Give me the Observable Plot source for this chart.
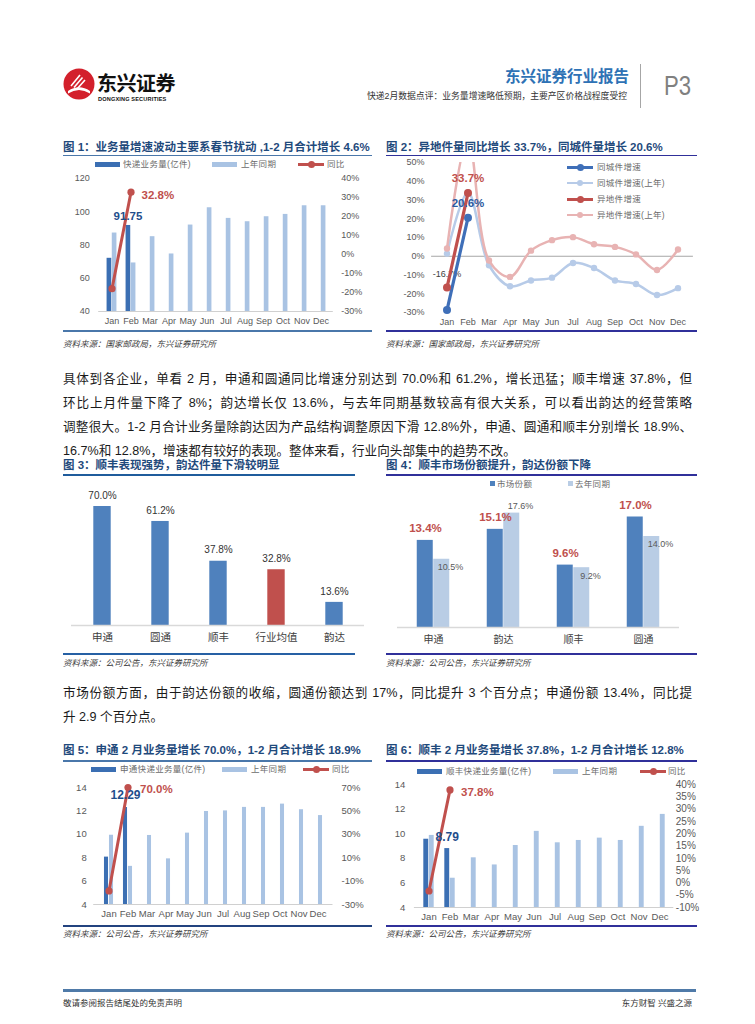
<!DOCTYPE html>
<html lang="zh-CN">
<head>
<meta charset="utf-8">
<script src="https://cdn.jsdelivr.net/npm/d3@7"></script>
<script src="https://cdn.jsdelivr.net/npm/@observablehq/plot@0.6"></script>
<style>
html,body{margin:0;padding:0;background:#fff;}
#page{position:relative;width:755px;height:1024px;overflow:hidden;background:#fff;font-family:"Liberation Sans","Noto Sans CJK SC",sans-serif;color:#222;}
.a{position:absolute;white-space:nowrap;}
.ttl{font-size:11.5px;font-weight:bold;color:#1f4a7c;line-height:14px;}
.src{font-size:8.5px;font-style:italic;color:#404040;line-height:10px;}
.ln{position:absolute;left:63px;width:629px;font-size:12.6px;line-height:20px;color:#1a1a1a;text-align:justify;text-align-last:justify;}
.lg{font-size:8.5px;color:#6b6b6b;line-height:10px;letter-spacing:0.3px;}
</style>
</head>
<body>
<div id="page"></div>
<script>
// ---------------- DATA ----------------
const months = ["Jan","Feb","Mar","Apr","May","Jun","Jul","Aug","Sep","Oct","Nov","Dec"];

// Chart 1: industry volume (亿件)
const c1Volume = [72.0, 91.75];
const c1PrevYear = [87.2, 69.2, 85.0, 74.6, 92.0, 102.4, 96.0, 94.0, 97.0, 98.4, 103.6, 103.6];
const c1Yoy = [-18.0, 32.8];
const c1LeftTicks = [40, 60, 80, 100, 120];
const c1RightTicks = [-30, -20, -10, 0, 10, 20, 30, 40];

// Chart 2: growth of same-city / other-city volume (%)
const c2Series = ["同城件增速", "同城件增速(上年)", "异地件增速", "异地件增速(上年)"];
const c2SameCity = [-28.7, 20.6];
const c2SameCityPrev = [1.4, 34.0, -4.8, -16.0, -12.9, -11.4, -3.6, -6.3, -12.9, -14.8, -20.7, -17.0];
const c2OtherCity = [-16.7, 33.7];
const c2OtherCityPrev = [4.1, 63.0, -2.3, -11.0, 3.0, 8.6, 10.2, 6.4, 5.0, 1.0, -7.3, 3.6];
const c2Ticks = [-30, -20, -10, 0, 10, 20, 30, 40, 50];

// Chart 3: Feb growth by company (%)
const c3Companies = ["申通", "圆通", "顺丰", "行业均值", "韵达"];
const c3Growth = [70.0, 61.2, 37.8, 32.8, 13.6];

// Chart 4: market share (%)
const c4Companies = ["申通", "韵达", "顺丰", "圆通"];
const c4Share = [13.4, 15.1, 9.6, 17.0];
const c4SharePrev = [10.5, 17.6, 9.2, 14.0];
const c4Legend = ["市场份额", "去年同期"];

// Chart 5: STO volume (亿件)
const c5Volume = [8.05, 12.29];
const c5PrevYear = [9.92, 7.26, 9.9, 7.9, 10.1, 11.95, 12.0, 12.3, 12.3, 12.58, 12.1, 11.6];
const c5Yoy = [-18.4, 70.0];
const c5LeftTicks = [4, 6, 8, 10, 12, 14];
const c5RightTicks = [-30, -10, 10, 30, 50, 70];

// Chart 6: SF volume (亿件)
const c6Volume = [9.55, 8.79];
const c6PrevYear = [9.86, 6.38, 8.04, 7.46, 9.04, 10.19, 9.26, 9.45, 9.64, 9.45, 10.6, 11.57];
const c6Yoy = [-3.3, 37.8];
const c6LeftTicks = [4, 6, 8, 10, 12, 14];
const c6RightTicks = [-10, -5, 0, 5, 10, 15, 20, 25, 30, 35, 40];

// ---------------- STYLE ----------------
const FONT = '"Liberation Sans", Arial, "Noto Sans CJK SC", sans-serif';
const DARK = "#3b6fb3", LIGHT = "#a9c3e3", RED = "#c0504d", LBLUE = "#1f4e8c";
const C2DARK = "#3f6fb8", C2LIGHT = "#b7cbe8", C2PINK = "#e8b3b3";
const BLUE3 = "#4f81bd", LIGHT4 = "#b9cde5";
const STEEL = "#4a77aa", NAVY = "#30309a";

const page = document.getElementById("page");
function div(cls, text, left, top, style = {}) {
  const d = document.createElement("div");
  d.className = cls; d.textContent = text;
  d.style.left = left + "px"; d.style.top = top + "px";
  Object.assign(d.style, style);
  page.appendChild(d); return d;
}
function box(x, y, w, h, color, extra = {}) {
  const d = document.createElement("div");
  Object.assign(d.style, {position: "absolute", left: x + "px", top: y + "px", width: w + "px", height: h + "px", background: color}, extra);
  page.appendChild(d); return d;
}
function hline(x1, x2, y, color, w) { box(x1, y - w / 2, x2 - x1, w, color); }
function place(svg, left, top) {
  svg.style.position = "absolute";
  svg.style.left = left + "px";
  svg.style.top = top + "px";
  page.appendChild(svg);
}
function legBar(x, yc, color) { box(x, yc - 2.5, 25, 5, color); }
function legLine(x, yc, color, lw, r) {
  box(x, yc - lw / 2, 26, lw, color);
  box(x + 13 - r, yc - r, 2 * r, 2 * r, color, {borderRadius: "50%"});
}
function legText(x, yc, text) { div("a lg", text, x, yc - 5); }
function legSquare(x, yc, color) { box(x, yc - 2.5, 5, 5, color); }

// ---------------- HEADER ----------------
const logo = document.createElementNS("http://www.w3.org/2000/svg", "svg");
logo.setAttribute("width", "32"); logo.setAttribute("height", "32"); logo.setAttribute("viewBox", "0 0 32 32");
logo.innerHTML = '<circle cx="16" cy="16" r="15.5" fill="#d3202c"/>' +
  '<path d="M5 23 Q16 15.5 27 23 L27 25.5 Q16 18.5 5 25.5 Z" fill="#fff"/>' +
  '<path d="M8 18 L17 7 M11 19.5 L19.5 9.5 M14 21 L22 12" stroke="#fff" stroke-width="1.6" fill="none"/>';
logo.style.position = "absolute"; logo.style.left = "63px"; logo.style.top = "68px";
page.appendChild(logo);
div("a", "东兴证券", 97, 73, {fontSize: "20px", fontWeight: "bold", color: "#111", lineHeight: "22px", letterSpacing: "-0.5px"});
div("a", "DONGXING SECURITIES", 98, 95.5, {fontSize: "5.6px", fontWeight: "bold", color: "#111", lineHeight: "6px", letterSpacing: "0.15px"});
div("a", "东兴证券行业报告", 0, 68, {right: "126px", left: "auto", fontSize: "15.5px", fontWeight: "bold", color: "#2e72b5", lineHeight: "18px"});
div("a", "快递2月数据点评：业务量增速略低预期，主要产区价格战程度受控", 0, 91, {right: "128px", left: "auto", fontSize: "8.8px", color: "#333", lineHeight: "10px"});
box(639.5, 64, 1.5, 44, "#a6a6a6");
div("a", "P3", 664, 70, {fontSize: "27px", color: "#808080", lineHeight: "32px", transform: "scaleX(0.82)", transformOrigin: "left center"});

// ---------------- TITLES / RULES / SOURCES ----------------
div("a ttl", "图 1：业务量增速波动主要系春节扰动 ,1-2 月合计增长 4.6%", 63, 140);
hline(63, 372, 155.5, STEEL, 1.6);
div("a ttl", "图 2：异地件量同比增长 33.7%，同城件量增长 20.6%", 386, 140);
hline(386, 697, 155.5, NAVY, 1.6);
hline(63, 372, 330.5, STEEL, 2);
hline(386, 697, 330.5, NAVY, 2);
div("a src", "资料来源：国家邮政局，东兴证券研究所", 63, 339);
div("a src", "资料来源：国家邮政局，东兴证券研究所", 386, 339);

div("a ttl", "图 3：顺丰表现强势，韵达件量下滑较明显", 63, 458);
hline(63, 355, 475, "#1f5c9c", 1.6);
div("a ttl", "图 4：顺丰市场份额提升，韵达份额下降", 386, 458);
hline(386, 697, 475, NAVY, 1.6);
hline(63, 355, 654, "#2660a4", 1.6);
hline(386, 697, 654, NAVY, 1.6);
div("a src", "资料来源：公司公告，东兴证券研究所", 63, 658);
div("a src", "资料来源：公司公告，东兴证券研究所", 386, 658);

div("a ttl", "图 5：申通 2 月业务量增长 70.0%，1-2 月合计增长 18.9%", 63, 743);
hline(63, 372, 761, STEEL, 1.6);
div("a ttl", "图 6：顺丰 2 月业务量增长 37.8%，1-2 月合计增长 12.8%", 386, 743);
hline(386, 697, 761, NAVY, 1.6);
hline(63, 372, 926, "#23437f", 1.6);
hline(386, 697, 926, NAVY, 1.6);
div("a src", "资料来源：公司公告，东兴证券研究所", 63, 929);
div("a src", "资料来源：公司公告，东兴证券研究所", 386, 929);

// ---------------- PARAGRAPHS ----------------
const para1 = [
  "具体到各企业，单看 2 月，申通和圆通同比增速分别达到 70.0%和 61.2%，增长迅猛；顺丰增速 37.8%，但",
  "环比上月件量下降了 8%；韵达增长仅 13.6%，与去年同期基数较高有很大关系，可以看出韵达的经营策略",
  "调整很大。1-2 月合计业务量除韵达因为产品结构调整原因下滑 12.8%外，申通、圆通和顺丰分别增长 18.9%、",
  "16.7%和 12.8%，增速都有较好的表现。整体来看，行业向头部集中的趋势不改。"
];
para1.forEach((t, i) => {
  const d = div("ln", t, 63, 369 + i * 24);
  if (i === para1.length - 1) d.style.textAlignLast = "left";
});
const para2 = [
  "市场份额方面，由于韵达份额的收缩，圆通份额达到 17%，同比提升 3 个百分点；申通份额 13.4%，同比提",
  "升 2.9 个百分点。"
];
para2.forEach((t, i) => {
  const d = div("ln", t, 63, 683 + i * 24);
  if (i === para2.length - 1) d.style.textAlignLast = "left";
});

// ---------------- FOOTER ----------------
hline(63, 696, 990.5, "#4f7aa8", 2.5);
div("a", "敬请参阅报告结尾处的免责声明", 63, 998, {fontSize: "8.5px", color: "#333", lineHeight: "10px"});
div("a", "东方财智 兴盛之源", 0, 998, {right: "63px", left: "auto", fontSize: "8.5px", color: "#333", lineHeight: "10px"});

// ---------------- CHARTS ----------------
function dualAxisChart(cfg) {
  const {left, top, width, height, ml, mr, mt, mb, lTicks, rTicks, cur, prev, yoy,
         barW, lPad, rPad, fs, rfs, curDx, curDy, yoyDx, yoyDy, curSize, yoySize} = cfg;
  const l0 = lTicks[0], l1 = lTicks[lTicks.length - 1];
  const r0 = rTicks[0], r1 = rTicks[rTicks.length - 1];
  const toL = r => l0 + (r - r0) * (l1 - l0) / (r1 - r0);
  const fromL = l => r0 + (l - l0) * (r1 - r0) / (l1 - l0);
  const step = (width - ml - mr) / months.length;
  const curData = cur.map((v, i) => ({m: months[i], v}));
  const prevData = prev.map((v, i) => ({m: months[i], v}));
  const yoyData = yoy.map((v, i) => ({m: months[i], v: toL(v), raw: v}));
  const svg = Plot.plot({
    width, height, marginLeft: ml, marginRight: mr, marginTop: mt, marginBottom: mb,
    style: {fontFamily: FONT, fontSize: fs + "px", color: "#595959", background: "transparent", overflow: "visible"},
    x: {type: "band", domain: months, padding: 0},
    y: {domain: [l0, l1]},
    marks: [
      Plot.ruleY([l0], {stroke: "#d0d0d0", strokeWidth: 1}),
      Plot.barY(prevData, {x: "m", y1: l0, y2: "v", fill: LIGHT, insetLeft: step / 2, insetRight: step / 2 - barW}),
      Plot.barY(curData, {x: "m", y1: l0, y2: "v", fill: DARK, insetLeft: step / 2 - barW, insetRight: step / 2}),
      Plot.axisY(lTicks, {anchor: "left", tickSize: 0, tickPadding: lPad, label: null}),
      Plot.axisY(rTicks.map(toL), {anchor: "right", tickSize: 0, tickPadding: rPad, label: null, fontSize: rfs,
        tickFormat: d => Math.round(fromL(d)) + "%"}),
      Plot.axisX({tickSize: 0, tickPadding: 6, label: null}),
      Plot.line(yoyData, {x: "m", y: "v", stroke: RED, strokeWidth: 3}),
      Plot.dot(yoyData, {x: "m", y: "v", r: 3.6, fill: RED}),
      Plot.text(curData.slice(-1), {x: "m", y: "v", text: d => d.v.toFixed(2), dx: curDx, dy: curDy,
        fill: LBLUE, fontWeight: "bold", fontSize: curSize}),
      Plot.text(yoyData.slice(-1), {x: "m", y: "v", text: d => d.raw.toFixed(1) + "%", dx: yoyDx, dy: yoyDy,
        textAnchor: "start", fill: RED, fontWeight: "bold", fontSize: yoySize})
    ]
  });
  place(svg, left, top);
}

// Chart 1
legBar(95, 164, DARK); legText(123, 164, "快递业务量(亿件)");
legBar(212, 164, LIGHT); legText(241, 164, "上年同期");
legLine(298, 164, RED, 3, 3.5); legText(327, 164, "同比");
dualAxisChart({left: 63, top: 170, width: 312, height: 160, ml: 35.2, mr: 42.2, mt: 8, mb: 19,
  lTicks: c1LeftTicks, rTicks: c1RightTicks, cur: c1Volume, prev: c1PrevYear, yoy: c1Yoy,
  barW: 5.2, lPad: 9, rPad: 8, fs: 9, rfs: 9, curDx: -3, curDy: -9, yoyDx: 10.5, yoyDy: 3, curSize: 11.5, yoySize: 11.5});

// Chart 2
{
  const mk = arr => arr.map((v, i) => ({m: months[i], v}));
  const sc = mk(c2SameCity), scp = mk(c2SameCityPrev), oc = mk(c2OtherCity), ocp = mk(c2OtherCityPrev);
  const svg = Plot.plot({
    width: 311, height: 172, marginLeft: 45.1, marginRight: 4.1, marginTop: 4, marginBottom: 18,
    style: {fontFamily: FONT, fontSize: "9px", color: "#595959", background: "transparent", overflow: "visible"},
    x: {type: "band", domain: months, padding: 0},
    y: {domain: [c2Ticks[0], c2Ticks[c2Ticks.length - 1]]},
    marks: [
      Plot.ruleY([0], {stroke: "#a6a6a6", strokeWidth: 1.2}),
      Plot.axisY(c2Ticks, {tickSize: 0, tickPadding: 7, tickFormat: d => d + "%", label: null}),
      Plot.axisX({tickSize: 0, tickPadding: 6, label: null}),
      Plot.text(oc.slice(0, 1), {x: "m", y: "v", text: d => d.v.toFixed(1) + "%", dy: -13, fill: "#404040", fontSize: 9}),
      Plot.line(scp, {x: "m", y: "v", stroke: C2LIGHT, strokeWidth: 2.5, curve: "catmull-rom", clip: true}),
      Plot.dot(scp, {x: "m", y: "v", r: 3.2, fill: C2LIGHT, clip: true}),
      Plot.line(ocp, {x: "m", y: "v", stroke: C2PINK, strokeWidth: 2.5, curve: "catmull-rom", clip: true}),
      Plot.dot(ocp, {x: "m", y: "v", r: 3.2, fill: C2PINK, clip: true}),
      Plot.line(sc, {x: "m", y: "v", stroke: C2DARK, strokeWidth: 3.2}),
      Plot.dot(sc, {x: "m", y: "v", r: 4, fill: C2DARK}),
      Plot.line(oc, {x: "m", y: "v", stroke: RED, strokeWidth: 3.2}),
      Plot.dot(oc, {x: "m", y: "v", r: 4, fill: RED}),
      Plot.text(oc.slice(-1), {x: "m", y: "v", text: d => d.v.toFixed(1) + "%", dy: -15, fill: RED, fontWeight: "bold", fontSize: 11.5}),
      Plot.text(sc.slice(-1), {x: "m", y: "v", text: d => d.v.toFixed(1) + "%", dy: -14, fill: "#2c5aa0", fontWeight: "bold", fontSize: 11.5})
    ]
  });
  place(svg, 386, 158);
  const legColors = [C2DARK, C2LIGHT, RED, C2PINK];
  const legWidths = [3, 2.5, 3, 2.5];
  c2Series.forEach((s, i) => {
    legLine(567, 167 + i * 16, legColors[i], legWidths[i], i % 2 === 0 ? 3.5 : 3);
    legText(597, 167 + i * 16, s);
  });
}

// Chart 3
{
  const data = c3Companies.map((c, i) => ({c, v: c3Growth[i], col: c === "行业均值" ? RED : BLUE3}));
  const W = 302, ml = 8, mr = 1;
  const step = (W - ml - mr) / c3Companies.length, bw = 18;
  const svg = Plot.plot({
    width: W, height: 165, marginLeft: ml, marginRight: mr, marginTop: 4, marginBottom: 25,
    style: {fontFamily: FONT, fontSize: "10.5px", color: "#404040", background: "transparent", overflow: "visible"},
    x: {type: "band", domain: c3Companies, padding: 0},
    y: {domain: [0, 80], axis: null},
    color: {type: "identity"},
    marks: [
      Plot.barY(data, {x: "c", y: "v", fill: "col", insetLeft: (step - bw) / 2, insetRight: (step - bw) / 2}),
      Plot.ruleY([0], {stroke: "#d9d9d9", strokeWidth: 1.5}),
      Plot.text(data, {x: "c", y: "v", text: d => d.v.toFixed(1) + "%", dy: -11, fill: "#333", fontSize: 10}),
      Plot.axisX({tickSize: 0, tickPadding: 8.5, label: null})
    ]
  });
  place(svg, 63, 485);
}

// Chart 4
{
  legSquare(490, 483.5, BLUE3); legText(497, 483.5, c4Legend[0]);
  legSquare(568, 483.5, LIGHT4); legText(575, 483.5, c4Legend[1]);
  const cur = c4Companies.map((c, i) => ({c, v: c4Share[i]}));
  const prev = c4Companies.map((c, i) => ({c, v: c4SharePrev[i], above: c4SharePrev[i] > c4Share[i]}));
  const W = 311, ml = 11, mr = 18;
  const step = (W - ml - mr) / c4Companies.length, bw = 16.5;
  const svg = Plot.plot({
    width: W, height: 160, marginLeft: ml, marginRight: mr, marginTop: 7, marginBottom: 23,
    style: {fontFamily: FONT, fontSize: "10px", color: "#404040", background: "transparent", overflow: "visible"},
    x: {type: "band", domain: c4Companies, padding: 0},
    y: {domain: [0, 20], axis: null},
    marks: [
      Plot.barY(cur, {x: "c", y: "v", fill: BLUE3, insetLeft: step / 2 - bw, insetRight: step / 2}),
      Plot.barY(prev, {x: "c", y: "v", fill: LIGHT4, insetLeft: step / 2, insetRight: step / 2 - bw}),
      Plot.ruleY([0], {stroke: "#d9d9d9", strokeWidth: 1.5}),
      Plot.text(cur, {x: "c", y: "v", text: d => d.v.toFixed(1) + "%", dx: -8, dy: -12, fill: RED, fontWeight: "bold", fontSize: 11.5}),
      Plot.text(prev.filter(d => !d.above), {x: "c", y: "v", text: d => d.v.toFixed(1) + "%", dx: 17, dy: 8, fill: "#595959", fontSize: 9}),
      Plot.text(prev.filter(d => d.above), {x: "c", y: "v", text: d => d.v.toFixed(1) + "%", dx: 17, dy: -7, fill: "#595959", fontSize: 9}),
      Plot.axisX({tickSize: 0, tickPadding: 8, label: null})
    ]
  });
  place(svg, 386, 490);
}

// Chart 5
legBar(91, 769, DARK); legText(120, 769, "申通快递业务量(亿件)");
legBar(222, 769, LIGHT); legText(251, 769, "上年同期");
legLine(303, 769, RED, 3, 3.5); legText(332, 769, "同比");
dualAxisChart({left: 63, top: 780, width: 305, height: 145, ml: 30.2, mr: 35.5, mt: 7, mb: 21,
  lTicks: c5LeftTicks, rTicks: c5RightTicks, cur: c5Volume, prev: c5PrevYear, yoy: c5Yoy,
  barW: 5, lPad: 7, rPad: 8.5, fs: 9.5, rfs: 9.5, curDx: -2.5, curDy: -12, yoyDx: 12, yoyDy: 1.5, curSize: 12, yoySize: 11.5});

// Chart 6
legBar(417, 771, DARK); legText(446, 771, "顺丰快递业务量(亿件)");
legBar(553, 771, LIGHT); legText(582, 771, "上年同期");
legLine(640, 771, RED, 3, 3.5); legText(668, 771, "同比");
dualAxisChart({left: 386, top: 778, width: 311, height: 147, ml: 27.9, mr: 23.7, mt: 6, mb: 18,
  lTicks: c6LeftTicks, rTicks: c6RightTicks, cur: c6Volume, prev: c6PrevYear, yoy: c6Yoy,
  barW: 5.5, lPad: 9, rPad: 2, fs: 9.5, rfs: 10, curDx: -2.75, curDy: -11, yoyDx: 11, yoyDy: 2, curSize: 12, yoySize: 11.5});
</script>
</body>
</html>
